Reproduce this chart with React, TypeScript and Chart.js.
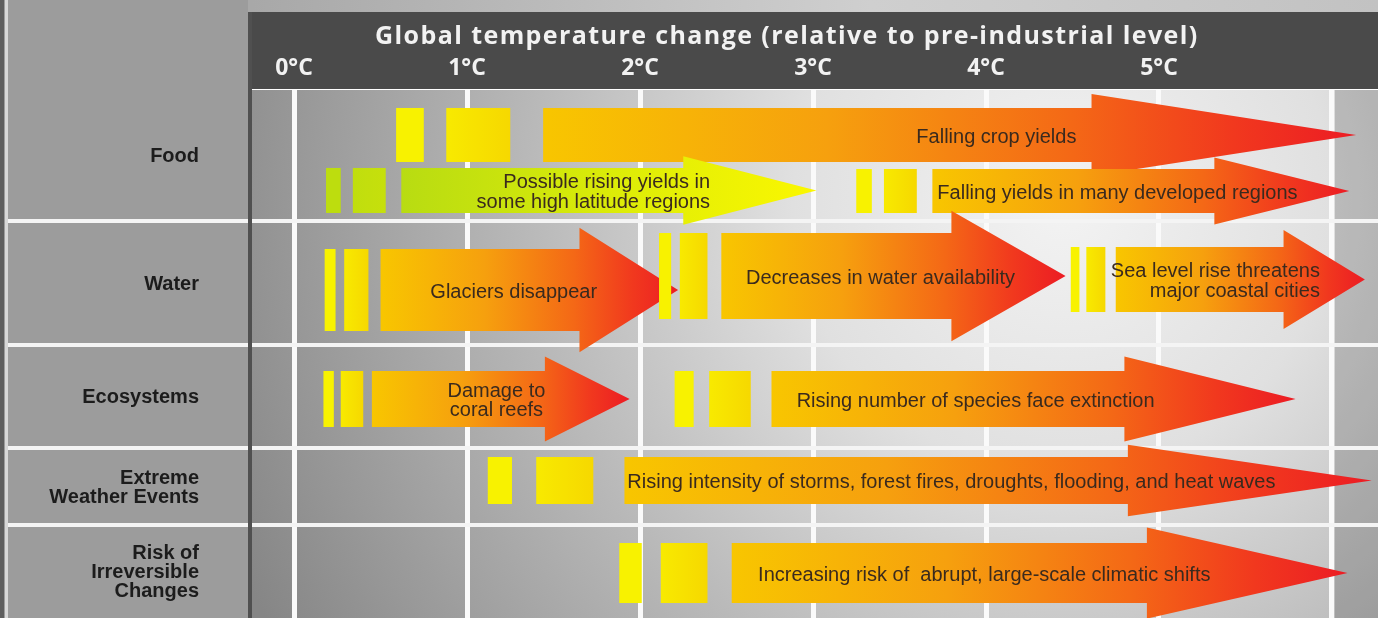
import React, { useEffect, useRef } from 'react';
import { Chart, registerables } from 'chart.js';

Chart.register(...registerables);

// ---- axis / category data ----
const tickValues = [0, 1, 2, 3, 4, 5, 6];
const tickLabels = ['0°C', '1°C', '2°C', '3°C', '4°C', '5°C', ''];
const axisTitle = 'Global temperature change (relative to pre-industrial level)';
const rowNames = ['Food', 'Water', 'Ecosystems', 'Extreme\nWeather Events', 'Risk of\nIrreversible\nChanges'];
// row boundaries on the vertical (0 = top of plot, 100 = bottom)
const rowEdges = [0, 24.81, 48.3, 67.8, 82.39, 100];

// ---- arrow data (temperatures in °C, lane on vertical axis) ----
const arrowLabels = [
  'Falling crop yields',
  'Possible rising yields in\nsome high latitude regions',
  'Falling yields in many developed regions',
  'Glaciers disappear',
  'Decreases in water availability',
  'Sea level rise threatens\nmajor coastal cities',
  'Damage to\ncoral reefs',
  'Rising number of species face extinction',
  'Rising intensity of storms, forest fires, droughts, flooding, and heat waves',
  'Increasing risk of  abrupt, large-scale climatic shifts',
];
const arrowKind = ['loss', 'gain', 'loss', 'loss', 'loss', 'loss', 'loss', 'loss', 'loss', 'loss'];
const arrowLane = [8.52, 19.03, 19.13, 37.88, 35.23, 35.89, 58.52, 58.52, 73.96, 91.48];
const bar1From = [0.59, 0.185, 3.25, 0.177, 2.11, 4.49, 0.17, 2.2, 1.12, 1.88];
const bar1To = [0.75, 0.27, 3.34, 0.24, 2.18, 4.54, 0.23, 2.31, 1.26, 2.01];
const bar2From = [0.88, 0.34, 3.41, 0.29, 2.23, 4.58, 0.27, 2.4, 1.4, 2.12];
const bar2To = [1.25, 0.53, 3.6, 0.43, 2.39, 4.69, 0.4, 2.64, 1.73, 2.39];
const arrowFrom = [1.44, 0.62, 3.69, 0.5, 2.47, 4.75, 0.45, 2.76, 1.91, 2.53];
const arrowHeadAt = [4.61, 2.25, 5.32, 1.65, 3.8, 5.72, 1.45, 4.8, 4.82, 4.93];
const arrowTo = [6.14, 3.02, 6.1, 2.22, 4.46, 6.19, 1.94, 5.79, 6.23, 6.09];
const labelAt = [4.06, 2.405, 4.76, 1.27, 3.39, 5.93, 1.17, 3.94, 3.8, 3.99];

// ---- styles ----
const shaftPx = [54, 45, 44, 82, 86, 65, 56, 56, 47, 60];
const labelAlign = ['center', 'right', 'center', 'center', 'center', 'right', 'center', 'center', 'center', 'center'];
const LABEL_FONT = '20px "Liberation Sans", Arial, sans-serif';
const ROW_FONT = 'bold 20px "Liberation Sans", Arial, sans-serif';
const TEXT_COLOR = '#3a2a1e';

const infographic = {
  id: 'infographic',
  beforeDraw(chart: any) {
    const { ctx, chartArea: ca, scales } = chart;
    const x = scales.x;
    const y = scales.y;
    const W = chart.width;
    const H = chart.height;
    ctx.save();
    // left panel
    ctx.fillStyle = '#9c9c9c';
    ctx.fillRect(0, 0, ca.left, H);
    ctx.fillStyle = '#5e5e5e';
    ctx.fillRect(0, 0, 4, H);
    ctx.fillStyle = '#d8d8d8';
    ctx.fillRect(5, 0, 3, H);
    // top strip
    const tg = ctx.createLinearGradient(ca.left, 0, W, 0);
    tg.addColorStop(0, '#a8a8a8');
    tg.addColorStop(0.55, '#cfcfcf');
    tg.addColorStop(1, '#c2c2c2');
    ctx.fillStyle = tg;
    ctx.fillRect(ca.left - 4, 0, W - ca.left + 4, x.top);
    // plot background
    const cx = ca.left + 0.72 * ca.width;
    const cy = ca.top + 0.21 * ca.height;
    const rg = ctx.createRadialGradient(cx, cy, 0, cx, cy, 900);
    rg.addColorStop(0, '#f3f3f3');
    rg.addColorStop(0.3, '#e0e0e0');
    rg.addColorStop(0.6, '#b8b8b8');
    rg.addColorStop(1, '#868686');
    ctx.fillStyle = rg;
    ctx.fillRect(ca.left, ca.top, ca.width, ca.height);
    const x6 = x.getPixelForValue(6);
    ctx.fillStyle = 'rgba(40,40,40,0.2)';
    ctx.fillRect(x6 + 3, ca.top, ca.right - x6 - 3, ca.height);
    // header band
    ctx.fillStyle = '#4a4a4a';
    ctx.fillRect(ca.left - 4, x.top, W - ca.left + 4, ca.top - x.top - 1);
    // row lines in left panel
    ctx.strokeStyle = '#f4f4f4';
    ctx.lineWidth = 4;
    rowEdges.slice(1, -1).forEach((e) => {
      const py = Math.round(y.getPixelForValue(e));
      ctx.beginPath();
      ctx.moveTo(8, py);
      ctx.lineTo(ca.left, py);
      ctx.stroke();
    });
    // dark vertical divider
    ctx.fillStyle = '#505050';
    ctx.fillRect(ca.left - 4, x.top, 4, H - x.top);
    // row labels
    ctx.fillStyle = '#1c1c1c';
    ctx.font = ROW_FONT;
    ctx.textAlign = 'right';
    ctx.textBaseline = 'middle';
    rowNames.forEach((name, i) => {
      const mid = (y.getPixelForValue(rowEdges[i]) + y.getPixelForValue(rowEdges[i + 1])) / 2;
      const lines = name.split('\n');
      const lh = 19;
      lines.forEach((ln, k) => {
        ctx.fillText(ln, 199, mid + (k - (lines.length - 1) / 2) * lh + 1);
      });
    });
    // axis title (spread to the reference width)
    ctx.fillStyle = '#f2f2f2';
    ctx.font = 'bold 25px "Open Sans", Lato, sans-serif';
    ctx.textAlign = 'left';
    const target = 0.73 * ca.width;
    const w0 = ctx.measureText(axisTitle).width;
    const ls = Math.max(0, (target - w0) / (axisTitle.length - 1));
    (ctx as any).letterSpacing = ls.toFixed(2) + 'px';
    const w1 = ctx.measureText(axisTitle).width;
    ctx.fillText(axisTitle, ca.left + 0.475 * ca.width - w1 / 2, x.top + 25);
    (ctx as any).letterSpacing = '0px';
    ctx.restore();
  },
  afterDraw(chart: any) {
    const { ctx, scales } = chart;
    const x = scales.x;
    const y = scales.y;
    ctx.save();
    arrowLabels.forEach((label, i) => {
      const yc = y.getPixelForValue(arrowLane[i]);
      const hs = shaftPx[i] / 2;
      const hh = hs * 1.52;
      const gain = arrowKind[i] === 'gain';
      // small leading bars
      const b1a = x.getPixelForValue(bar1From[i]);
      const b1b = x.getPixelForValue(bar1To[i]);
      const b2a = x.getPixelForValue(bar2From[i]);
      const b2b = x.getPixelForValue(bar2To[i]);
      ctx.fillStyle = gain ? '#bddd0e' : '#f8f200';
      ctx.fillRect(b1a, yc - hs, b1b - b1a, 2 * hs);
      const g2 = ctx.createLinearGradient(b2a, 0, b2b, 0);
      g2.addColorStop(0, gain ? '#c0de0e' : '#f8ea00');
      g2.addColorStop(1, gain ? '#c6e00c' : '#f6d800');
      ctx.fillStyle = g2;
      ctx.fillRect(b2a, yc - hs, b2b - b2a, 2 * hs);
      // arrow
      const x0 = x.getPixelForValue(arrowFrom[i]);
      const xh = x.getPixelForValue(arrowHeadAt[i]);
      const x1 = x.getPixelForValue(arrowTo[i]);
      const g = ctx.createLinearGradient(x0, 0, x1, 0);
      if (gain) {
        g.addColorStop(0, '#b8dc12');
        g.addColorStop(0.6, '#e2ee06');
        g.addColorStop(1, '#fbf700');
      } else {
        g.addColorStop(0, '#f8c600');
        g.addColorStop(0.35, '#f6a00e');
        g.addColorStop(0.65, '#f46816');
        g.addColorStop(0.85, '#f1381e');
        g.addColorStop(1, '#ec1c24');
      }
      ctx.beginPath();
      ctx.moveTo(x0, yc - hs);
      ctx.lineTo(xh, yc - hs);
      ctx.lineTo(xh, yc - hh);
      ctx.lineTo(x1, yc);
      ctx.lineTo(xh, yc + hh);
      ctx.lineTo(xh, yc + hs);
      ctx.lineTo(x0, yc + hs);
      ctx.closePath();
      ctx.fillStyle = g;
      ctx.fill();
      // label
      ctx.fillStyle = TEXT_COLOR;
      ctx.font = LABEL_FONT;
      ctx.textAlign = labelAlign[i] as CanvasTextAlign;
      ctx.textBaseline = 'middle';
      const lx = x.getPixelForValue(labelAt[i]);
      const lines = label.split('\n');
      const lh = 19.5;
      lines.forEach((ln, k) => {
        ctx.fillText(ln, lx, yc + (k - (lines.length - 1) / 2) * lh + 2);
      });
    });
    ctx.restore();
  },
};

export default function App() {
  const ref = useRef<HTMLCanvasElement | null>(null);
  useEffect(() => {
    if (!ref.current) return;
    const chart = new Chart(ref.current, {
      type: 'scatter',
      data: { datasets: [] },
      options: {
        animation: false,
        responsive: true,
        maintainAspectRatio: false,
        events: [],
        layout: { padding: { left: 252, top: 12, right: 0, bottom: 0 } },
        plugins: { legend: { display: false }, tooltip: { enabled: false } },
        scales: {
          x: {
            type: 'linear',
            position: 'top',
            min: -0.243,
            max: 6.266,
            afterBuildTicks: (s: any) => {
              s.ticks = tickValues.map((v) => ({ value: v }));
            },
            afterFit: (s: any) => {
              s.height = 78;
            },
            ticks: {
              callback: (_v: any, idx: number) => tickLabels[idx] ?? '',
              color: '#f2f2f2',
              font: { family: '"Open Sans", Lato, sans-serif', size: 23, weight: 'bold' },
              padding: 8,
              maxRotation: 0,
              autoSkip: false,
            },
            grid: { color: '#fafafa', lineWidth: 5, drawTicks: false },
            border: { display: false },
          },
          y: {
            type: 'linear',
            position: 'left',
            min: 0,
            max: 100,
            reverse: true,
            afterBuildTicks: (s: any) => {
              s.ticks = rowEdges.slice(1, -1).map((v) => ({ value: v }));
            },
            afterFit: (s: any) => {
              s.width = 0;
            },
            ticks: { display: false },
            grid: { color: '#f4f4f4', lineWidth: 4, drawTicks: false },
            border: { display: false },
          },
        },
      } as any,
      plugins: [infographic],
    });
    return () => chart.destroy();
  }, []);
  return (
    <div style={{ position: 'absolute', left: 0, top: 0, width: 1378, height: 618 }}>
      <canvas ref={ref} />
    </div>
  );
}
